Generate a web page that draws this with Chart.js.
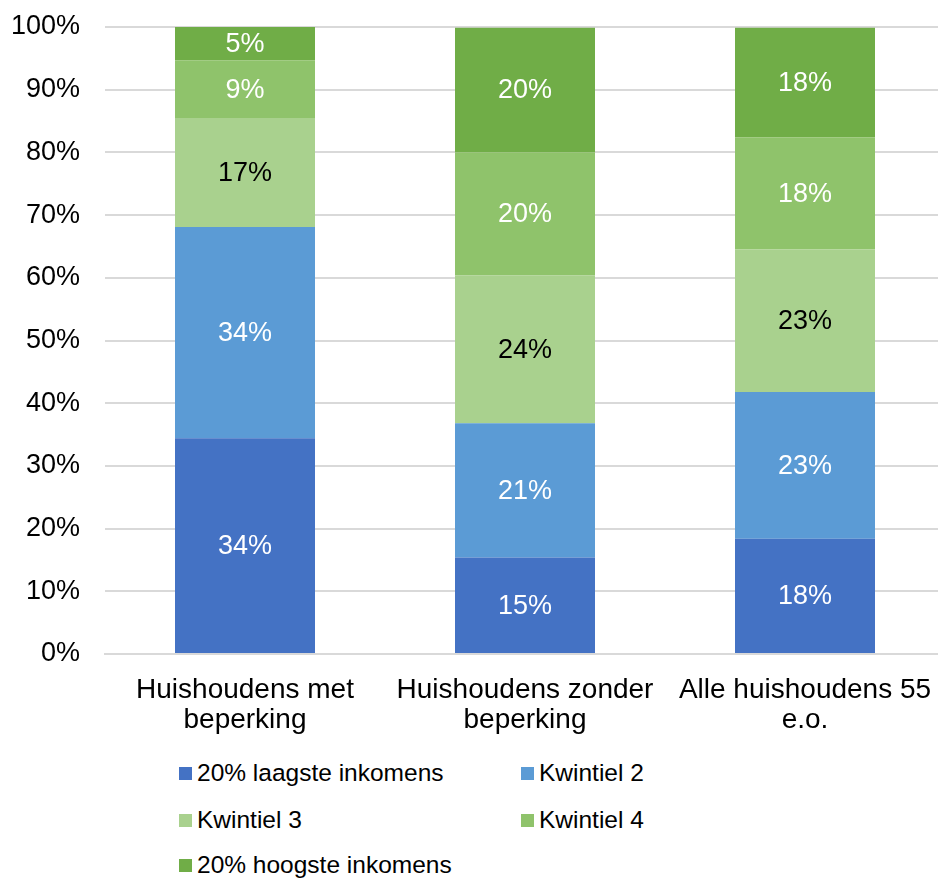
<!DOCTYPE html>
<html>
<head>
<meta charset="utf-8">
<script src="https://cdn.jsdelivr.net/npm/chart.js@4/dist/chart.umd.min.js"></script>
<style>
  html, body { margin: 0; padding: 0; background: #fff; overflow: hidden; }
  #wrap { position: relative; width: 938px; height: 878px; overflow: hidden; }
  #chart { position: absolute; left: 0; top: 0; }
  .leg { position: absolute; font: 24.5px "Liberation Sans", Arial, sans-serif; color: #000; line-height: 30px; white-space: nowrap; }
  .leg i { display: inline-block; width: 13px; height: 13px; margin-right: 5px; vertical-align: 1px; }
</style>
</head>
<body>
<div id="wrap">
  <canvas id="chart" width="945" height="750" style="width:945px;height:750px"></canvas>
  <div id="legend"></div>
</div>
<script>
const categories = [["Huishoudens met", "beperking"], ["Huishoudens zonder", "beperking"], ["Alle huishoudens 55", "e.o."]];
const seriesNames = ["20% laagste inkomens", "Kwintiel 2", "Kwintiel 3", "Kwintiel 4", "20% hoogste inkomens"];
const laagste = [34.4, 15.4, 18.4];
const kwintiel2 = [33.7, 21.4, 23.4];
const kwintiel3 = [17.4, 23.6, 22.7];
const kwintiel4 = [9.2, 19.6, 17.9];
const hoogste = [5.3, 19.9, 17.5];
const yTicks = [0, 10, 20, 30, 40, 50, 60, 70, 80, 90, 100];

const colors = ["#4472C4", "#5B9BD5", "#A9D18E", "#8FC36B", "#70AD47"];
const labelColors = ["#fff", "#fff", "#000", "#fff", "#fff"];
const FONT = "'Liberation Sans', Arial, sans-serif";

// values written in the middle of each segment
const segmentLabels = {
  id: "segmentLabels",
  afterDatasetsDraw(chart) {
    const ctx = chart.ctx;
    ctx.save();
    ctx.font = "27px " + FONT;
    ctx.textAlign = "center";
    ctx.textBaseline = "middle";
    chart.data.datasets.forEach((ds, i) => {
      chart.getDatasetMeta(i).data.forEach((bar, j) => {
        const p = bar.getCenterPoint();
        ctx.fillStyle = labelColors[i];
        ctx.fillText(Math.round(ds.data[j]) + "%", p.x, p.y + 1);
      });
    });
    ctx.restore();
  }
};

const seriesData = [laagste, kwintiel2, kwintiel3, kwintiel4, hoogste];

new Chart(document.getElementById("chart"), {
  type: "bar",
  data: {
    labels: categories,
    datasets: seriesData.map((d, i) => ({
      label: seriesNames[i],
      data: d,
      backgroundColor: colors[i],
      borderWidth: 0,
      barPercentage: 0.5,
      categoryPercentage: 1
    }))
  },
  options: {
    responsive: false,
    animation: false,
    layout: { padding: { top: 27, left: 0, right: 0, bottom: 0 } },
    plugins: { legend: { display: false }, tooltip: { enabled: false } },
    scales: {
      x: {
        stacked: true,
        grid: { display: false, drawTicks: false },
        border: { color: "#d9d9d9", width: 2 },
        ticks: { color: "#000", font: { family: FONT, size: 28, lineHeight: 1.07 }, padding: 21, maxRotation: 0, autoSkip: false },
        afterFit(scale) {
          scale.height = 96;
          scale.paddingLeft = 0;
          scale.paddingRight = 0;
        }
      },
      y: {
        stacked: true,
        min: 0,
        max: 100,
        afterBuildTicks(scale) { scale.ticks = yTicks.map(v => ({ value: v })); },
        grid: { color: "#d9d9d9", lineWidth: 2, drawTicks: false },
        border: { display: false },
        ticks: {
          color: "#000",
          font: { family: FONT, size: 27 },
          padding: 25,
          callback: v => v + "%"
        },
        afterFit(scale) {
          scale.width = 105;
          scale.paddingTop = 0;
          scale.paddingBottom = 0;
        }
      }
    }
  },
  plugins: [segmentLabels]
});

// two-column legend under the chart
const legendPos = [[179, 758], [521, 758], [179, 805], [521, 805], [179, 850]];
const legend = document.getElementById("legend");
seriesNames.forEach((name, i) => {
  const el = document.createElement("div");
  el.className = "leg";
  el.style.left = legendPos[i][0] + "px";
  el.style.top = legendPos[i][1] + "px";
  el.innerHTML = '<i style="background:' + colors[i] + '"></i>' + name;
  legend.appendChild(el);
});
</script>
</body>
</html>
